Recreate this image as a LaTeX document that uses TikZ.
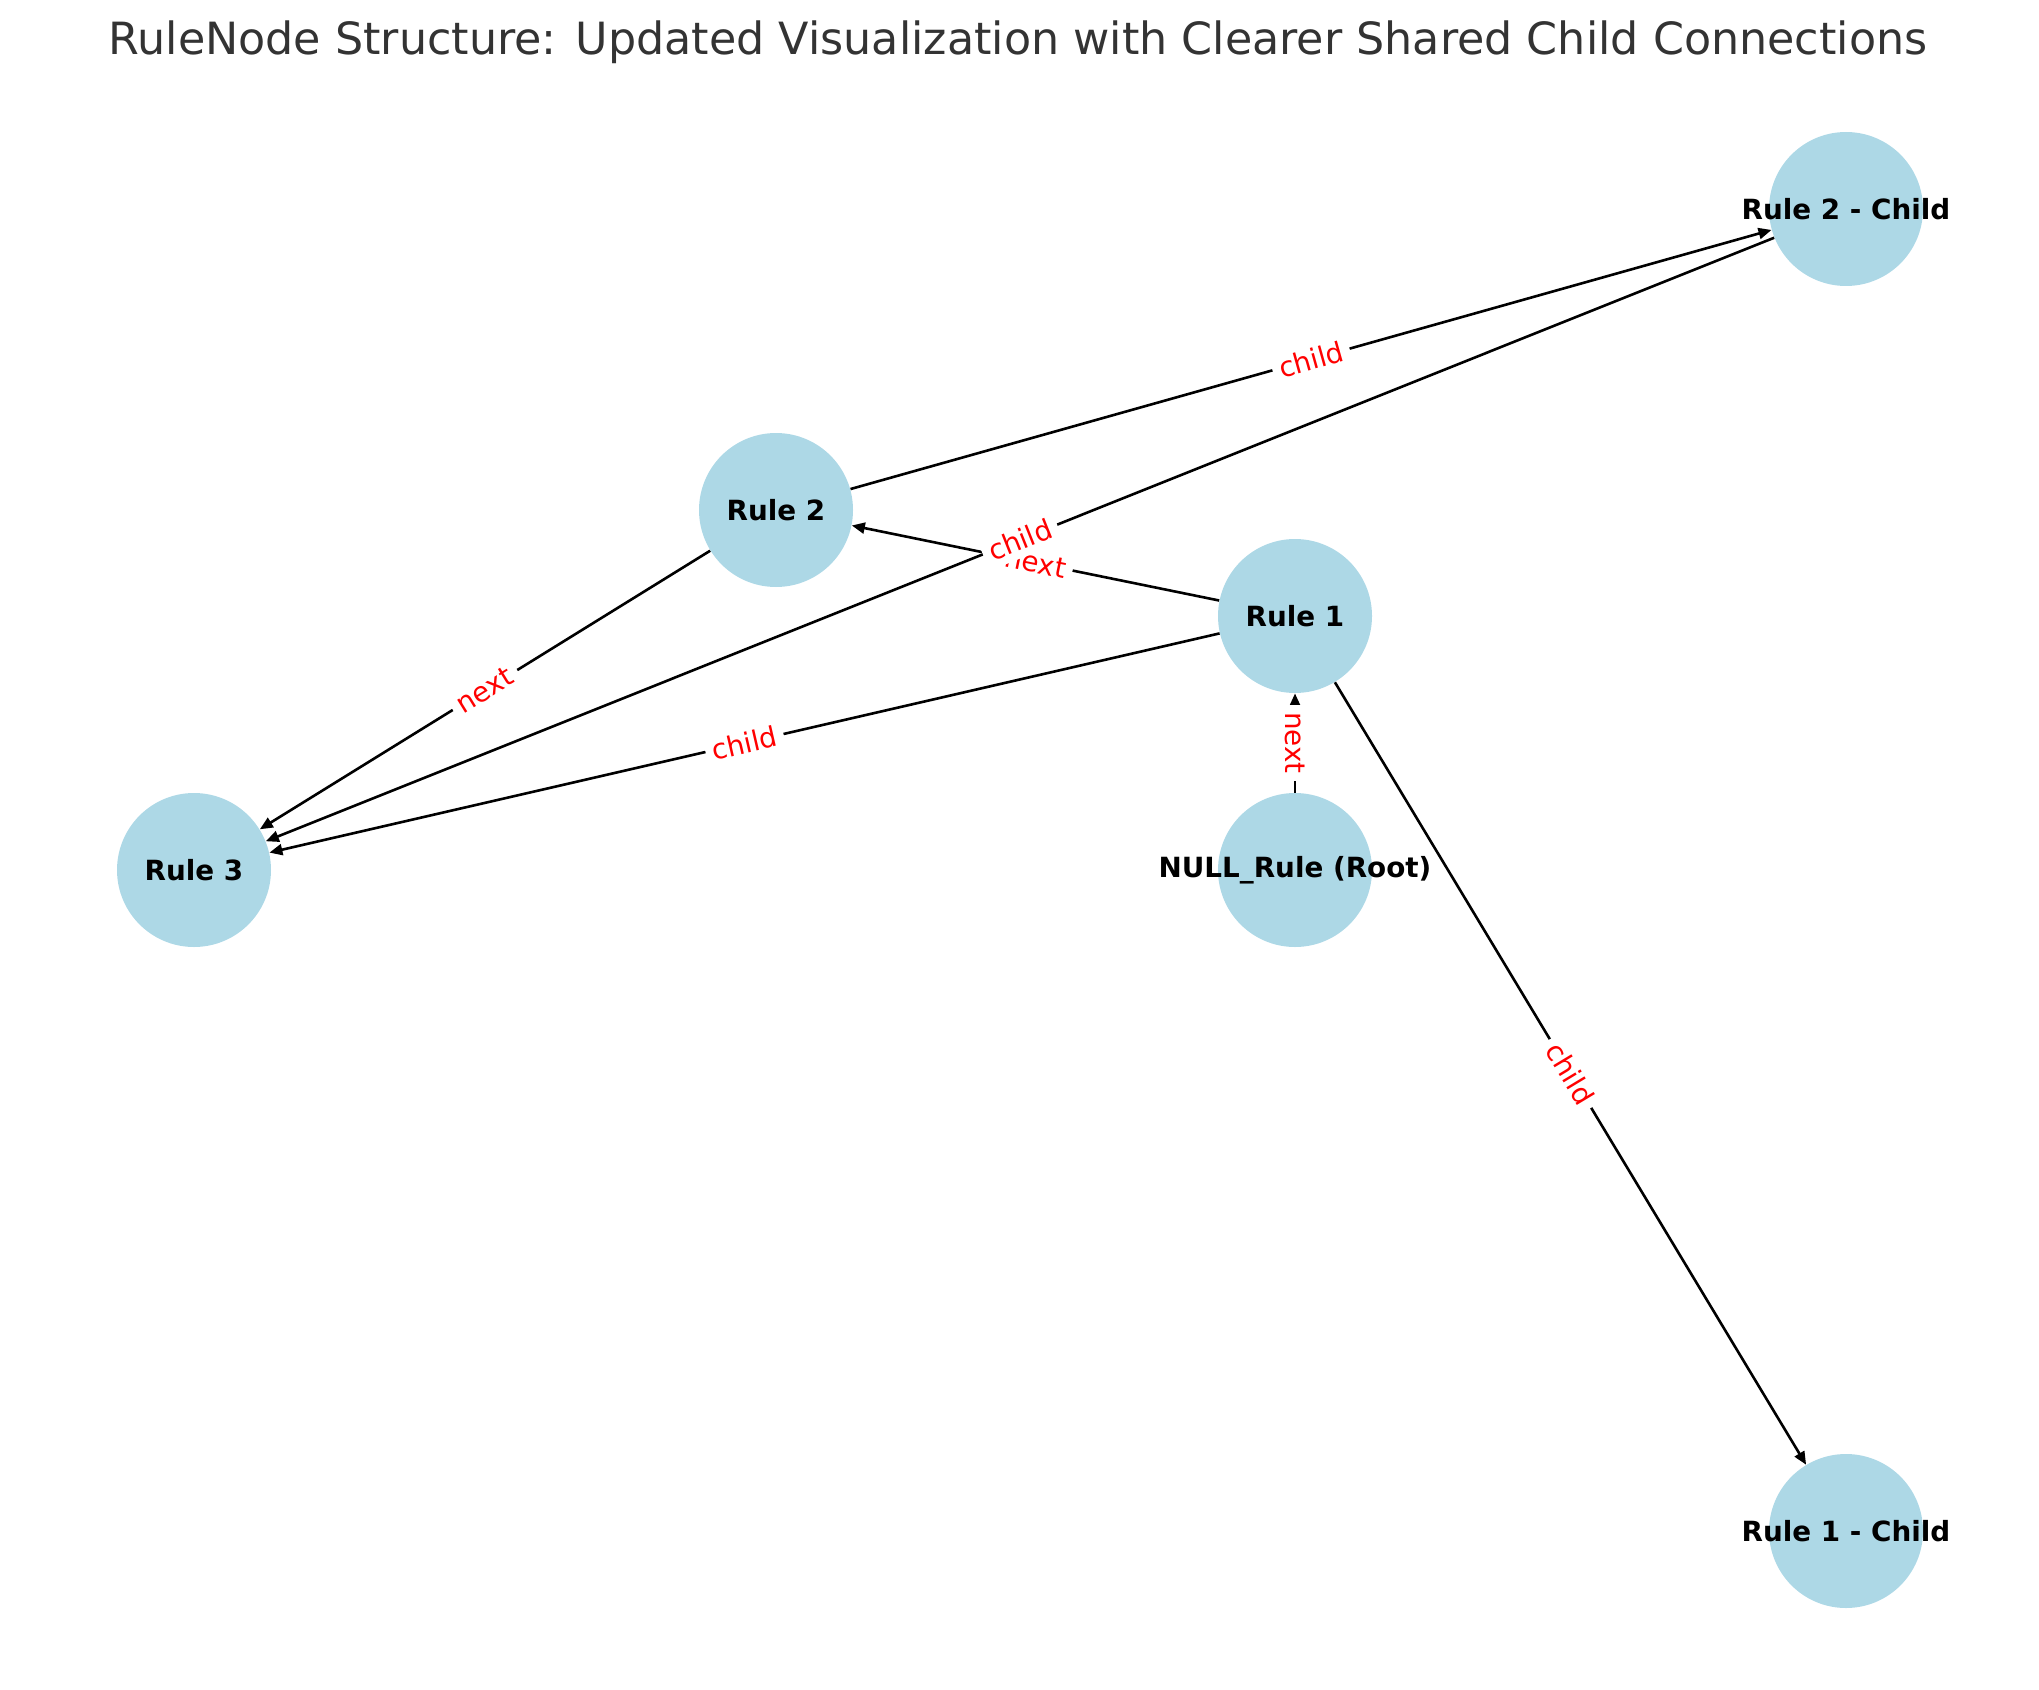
\documentclass[tikz,border=0pt]{standalone}
\usepackage{fontspec}
\setmainfont{DejaVu Sans}
\usetikzlibrary{arrows.meta}
\definecolor{nodeblue}{HTML}{ADD8E6}
\definecolor{titlegray}{HTML}{333333}
\tikzset{rule/.style = {circle, fill=nodeblue, minimum size=77pt, inner sep=0pt,
    label={[font=\bfseries\fontsize{13.9}{16}\selectfont]center:#1}},
  link/.style = {-{Triangle[length=6.5pt,width=5.5pt]}, line width=1.3pt},
  elabel/.style = {midway, fill=white, text=red, inner sep=3.5pt, rounded corners=3pt,
    font=\fontsize{13.9}{16}\selectfont}}

\begin{document}
\begin{tikzpicture}[x=0.5pt, y=-0.5pt]
  \useasboundingbox (0,0) rectangle (2039,1690);
  \node[anchor=base, text=titlegray, font=\fontsize{22.2}{26}\selectfont] (title) at (1018,55)
    {RuleNode Structure: Updated Visualization with Clearer Shared Child Connections};
  \node[rule={Rule 2 - Child}] (r2c) at (1846,209) {};
  \node[rule={Rule 2}] (r2) at (776,510) {};
  \node[rule={Rule 1}] (r1) at (1295,616) {};
  \node[rule={Rule 3}] (r3) at (194,870) {};
  \node[rule={NULL\_Rule (Root)}] (nr) at (1295,870) {};
  \node[rule={Rule 1 - Child}] (r1c) at (1846,1531) {};
  % edges first, labels on top
  \draw[link] (nr) -- (r1);
  \draw[link] (r1) -- (r2);
  \draw[link] (r1) -- (r1c);
  \draw[link] (r1) -- (r3);
  \draw[link] (r2) -- (r3);
  \draw[link] (r2) -- (r2c);
  \draw[link] (r2c) -- (r3);
  \path (nr) -- node[elabel, rotate=-90] (l1) {next} (r1);
  \path (r1) -- node[elabel, sloped] (l2) {next} (r2);
  \path (r1) -- node[elabel, sloped] (l3) {child} (r1c);
  \path (r1) -- node[elabel, sloped] (l4) {child} (r3);
  \path (r2) -- node[elabel, sloped] (l5) {next} (r3);
  \path (r2) -- node[elabel, sloped] (l6) {child} (r2c);
  \path (r2c) -- node[elabel, sloped] (l7) {child} (r3);
\end{tikzpicture}
\end{document}
